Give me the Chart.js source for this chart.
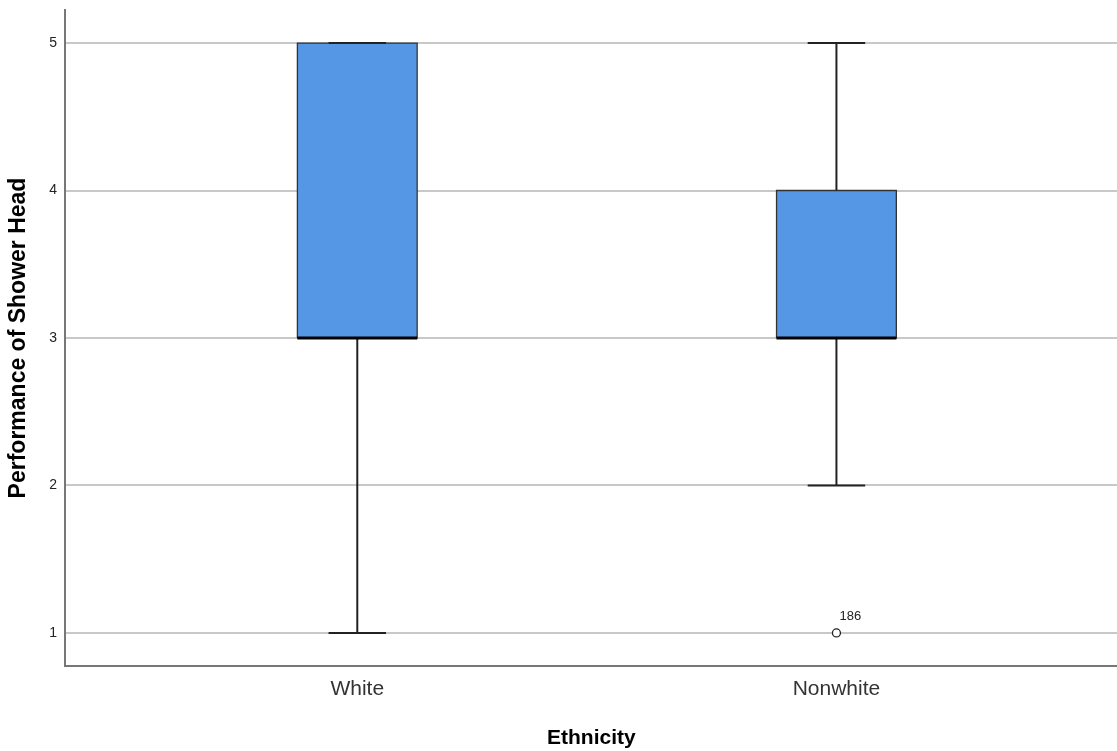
<!DOCTYPE html>
<html lang="en">
<head>
<meta charset="UTF-8">
<title>Performance of Shower Head by Ethnicity</title>
<script src="https://cdn.jsdelivr.net/npm/chart.js@4.4.1/dist/chart.umd.min.js"></script>
<style>
    html, body { margin: 0; padding: 0; background: #fff; overflow: hidden; }
    #wrap { width: 1123px; height: 751px; position: relative; }
</style>
</head>
<body>
<div id="wrap"><canvas id="chart"></canvas></div>
<script>
// box plot data
const categories = ['White', 'Nonwhite'];
const minVals    = [1, 2];
const q1Vals     = [3, 3];
const medians    = [3, 3];
const q3Vals     = [5, 4];
const maxVals    = [5, 5];
const outlierVals   = [[], [1]];
const outlierLabels = [[], ['186']];
const yTicks = [1, 2, 3, 4, 5];

const boxHalf = 0.125;   // half box width, x units
const capHalf = 0.06;    // half whisker cap width
const boxColor = '#5596e5';
const edge = '#222';

const datasets = [];
categories.forEach((cat, i) => {
    const x = i + 1;
    // box fill between q1 and q3
    datasets.push({
        data: [{x: x - boxHalf, y: q3Vals[i]}, {x: x + boxHalf, y: q3Vals[i]}],
        fill: {value: q1Vals[i]}, backgroundColor: boxColor,
        borderWidth: 0, pointRadius: 0, order: 5
    });
    // box outline
    datasets.push({
        data: [
            {x: x - boxHalf, y: q1Vals[i]}, {x: x + boxHalf, y: q1Vals[i]},
            {x: x + boxHalf, y: q3Vals[i]}, {x: x - boxHalf, y: q3Vals[i]},
            {x: x - boxHalf, y: q1Vals[i]}
        ],
        borderColor: '#333', borderWidth: 1.3, pointRadius: 0, fill: false, order: 3
    });
    // whiskers
    datasets.push({
        data: [{x: x, y: q3Vals[i]}, {x: x, y: maxVals[i]}],
        borderColor: edge, borderWidth: 2, pointRadius: 0, fill: false, order: 2
    });
    datasets.push({
        data: [{x: x, y: q1Vals[i]}, {x: x, y: minVals[i]}],
        borderColor: edge, borderWidth: 2, pointRadius: 0, fill: false, order: 2
    });
    // caps
    datasets.push({
        data: [{x: x - capHalf, y: maxVals[i]}, {x: x + capHalf, y: maxVals[i]}],
        borderColor: edge, borderWidth: 2, pointRadius: 0, fill: false, order: 2
    });
    datasets.push({
        data: [{x: x - capHalf, y: minVals[i]}, {x: x + capHalf, y: minVals[i]}],
        borderColor: edge, borderWidth: 2, pointRadius: 0, fill: false, order: 2
    });
    // median
    datasets.push({
        data: [{x: x - boxHalf, y: medians[i]}, {x: x + boxHalf, y: medians[i]}],
        borderColor: '#000', borderWidth: 3, pointRadius: 0, fill: false, order: 1
    });
    // outliers
    if (outlierVals[i].length) {
        datasets.push({
            data: outlierVals[i].map(v => ({x: x, y: v})),
            showLine: false, pointRadius: 4, pointBorderWidth: 1.3,
            pointBackgroundColor: '#fff', pointBorderColor: '#222',
            fill: false, order: 0, outlierText: outlierLabels[i]
        });
    }
});

const outlierLabelPlugin = {
    id: 'outlierLabel',
    afterDatasetsDraw(chart) {
        const ctx = chart.ctx;
        chart.data.datasets.forEach((ds, di) => {
            if (!ds.outlierText) return;
            const meta = chart.getDatasetMeta(di);
            meta.data.forEach((pt, k) => {
                ctx.save();
                ctx.font = '13px Arial, "Liberation Sans", sans-serif';
                ctx.fillStyle = '#222';
                ctx.textAlign = 'left';
                ctx.textBaseline = 'bottom';
                ctx.fillText(ds.outlierText[k], pt.x + 3, pt.y - 10);
                ctx.restore();
            });
        });
    }
};

const font = 'Arial, "Liberation Sans", sans-serif';

new Chart(document.getElementById('chart'), {
    type: 'line',
    data: {datasets: datasets},
    plugins: [outlierLabelPlugin],
    options: {
        responsive: true,
        maintainAspectRatio: false,
        animation: false,
        layout: {padding: {top: 10, right: 0, left: 0, bottom: 0}},
        plugins: {legend: {display: false}, tooltip: {enabled: false}},
        scales: {
            x: {
                type: 'linear',
                min: 0.39, max: 2.587,
                afterBuildTicks: s => { s.ticks = categories.map((c, i) => ({value: i + 1})); },
                afterFit: s => { s.height = 85; s.paddingLeft = 0; s.paddingRight = 0; },
                ticks: {
                    callback: v => categories[v - 1],
                    color: '#333', padding: 11,
                    font: {family: font, size: 21}
                },
                grid: {display: false, drawTicks: false},
                border: {display: true, color: '#777', width: 2},
                title: {
                    display: true, text: 'Ethnicity', color: '#000',
                    font: {family: font, size: 21, weight: 'bold'},
                    padding: {top: 10, bottom: 0}
                }
            },
            y: {
                type: 'linear',
                min: 0.776, max: 5.224,
                afterBuildTicks: s => { s.ticks = yTicks.map(v => ({value: v})); },
                afterFit: s => { s.width = 65; s.paddingTop = 0; s.paddingBottom = 0; },
                ticks: {
                    color: '#222', padding: 8,
                    font: {family: font, size: 14}
                },
                grid: {color: '#c8c8c8', lineWidth: 2, drawTicks: false},
                border: {display: true, color: '#777', width: 2},
                title: {
                    display: true, text: 'Performance of Shower Head', color: '#000',
                    font: {family: font, size: 23, weight: 'bold'},
                    padding: {top: 5, bottom: 0}
                }
            }
        }
    }
});
</script>
</body>
</html>
